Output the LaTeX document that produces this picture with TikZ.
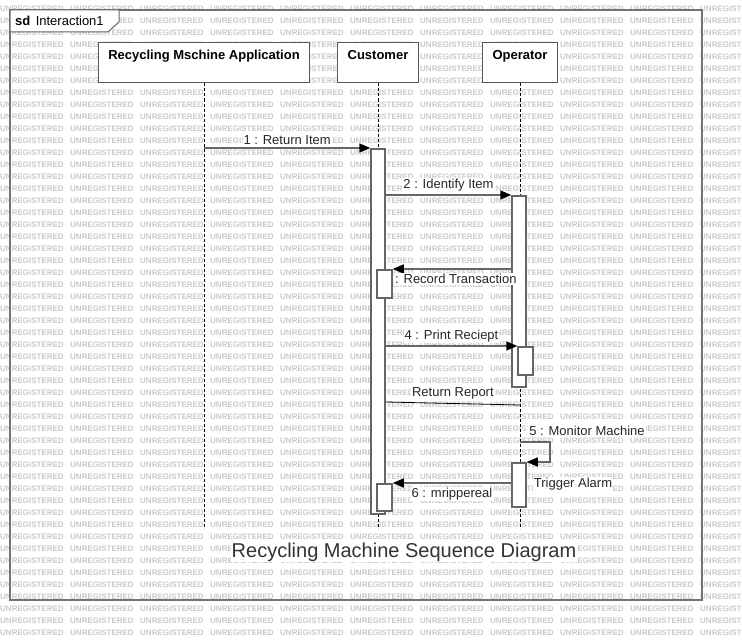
\documentclass[tikz,border=0pt]{standalone}
\usepackage{fontspec}
\setmainfont{Liberation Sans}
\usetikzlibrary{arrows.meta,positioning}

\begin{document}
\begin{tikzpicture}[x=1pt,y=-1pt,
      wm/.style={text=black!21,font=\fontsize{8}{8}\selectfont\bfseries,inner sep=0pt,anchor=west},
      head/.style={draw=black!65,line width=1.5pt,fill=white,anchor=north,minimum height=40pt,
        inner xsep=2pt,inner ysep=4pt,text height=13pt,text depth=19pt,font=\fontsize{13}{15}\selectfont\bfseries},
      act/.style={draw=black!60,line width=1.5pt,fill=white,anchor=north,minimum width=14pt,inner sep=0pt},
      lifeline/.style={black,line width=0.8pt,dash pattern=on 3pt off 2pt},
      msg/.style={black!60,line width=1.5pt,-{Triangle[length=11pt,width=9pt,color=black]}},
      lbl/.style={fill=white,inner sep=1pt,font=\fontsize{13}{15}\selectfont,text=black!85}]
      \useasboundingbox (0,0) rectangle (742,642);

      % watermark
      \foreach \r in {0,...,52}{
        \foreach \c in {0,...,9}
          \node[wm] (wm-\r-\c) at (70*\c,8.3+12*\r) {UNREGISTERED};
        \node[wm] (wm-\r-10) at (700,8.3+12*\r) {UNREGIST};
      }

      % frame
      \draw[black!55,line width=1.5pt] (10,10) rectangle (702,600);
      \draw[black!60,line width=1pt,fill=white] (10,10) -- (119,10) -- (119,22) -- (108,32) -- (10,32) -- cycle;
      \node[anchor=west,inner sep=0pt,font=\fontsize{13}{15}\selectfont\bfseries] (sd) at (15,21) {sd};
      \node[right=5pt of sd,inner sep=0pt,font=\fontsize{13}{15}\selectfont] (frame name) {Interaction1};

      % lifelines
      \node[head,minimum width=211pt] (app) at (204,42) {Recycling Mschine Application};
      \node[head,minimum width=81pt] (cust) at (378,42) {Customer};
      \node[head,minimum width=75pt] (oper) at (520,42) {Operator};
      \draw[lifeline] (app.south) -- ++(0,445);
      \draw[lifeline] (cust.south) -- ++(0,445);
      \draw[lifeline] (oper.south) -- ++(0,445);

      % activations
      \node[act,minimum height=365pt] (act1) at (378,148) {};
      \node[act,minimum width=15pt,minimum height=28pt] (act3) at (384.5,269) {};
      \node[act,minimum width=15pt,minimum height=27pt] (act6) at (384.5,483) {};
      \node[act,minimum height=191pt] (act2) at (519,195) {};
      \node[act,minimum width=15pt,minimum height=28pt] (act4) at (525.5,346) {};
      \node[act,minimum height=44pt] (act5) at (519,462) {};

      % messages
      \draw[msg] (app.south |- act1.north) -- (act1.north west)
        node[lbl,midway,above=2pt] (m1) {1 : Return Item};
      \draw[msg] (act1.east |- act2.north) -- (act2.north west)
        node[lbl,midway,above=2pt] (m2) {2 : Identify Item};
      \draw[msg] (act2.west |- act3.north) -- (act3.north east);
      \node[lbl,anchor=west] (m3) at (394,279) {: Record Transaction};
      \draw[msg] (act1.east |- act4.north) -- (act4.north west)
        node[lbl,midway,above=2pt] (m4) {4 : Print Reciept};
      \draw[black,line width=0.8pt] (act1.east |- 0,402) -- (oper.south |- 0,405)
        node[lbl,midway,above=3pt] (report) {Return Report};
      \draw[msg] (oper.south |- 0,442) -- ++(30,0) |- (act5.north east);
      \node[lbl] (m5) at (587,431) {5 : Monitor Machine};
      \draw[msg] (act5.west |- act6.north) -- (act6.north east)
        node[lbl,midway,below=3pt] (m6) {6 : mrippereal};
      \node[lbl] (alarm) at (573,484) {Trigger Alarm};

      \node[fill=white,inner sep=1pt,text=black!80,font=\fontsize{20}{24}\selectfont] (title)
        at (404,552) {Recycling Machine Sequence Diagram};
\end{tikzpicture}
\end{document}
